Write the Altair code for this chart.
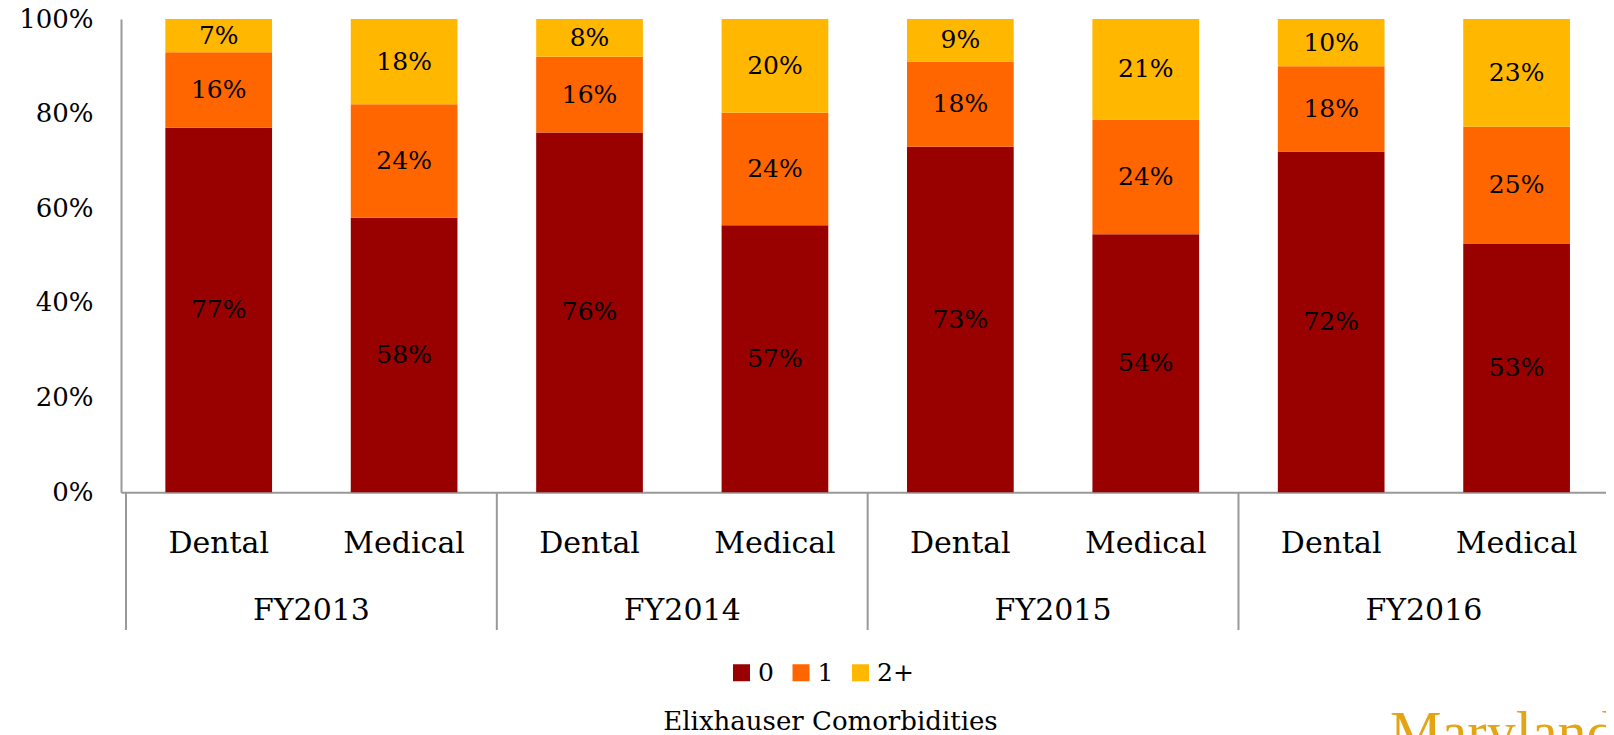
import altair as alt
import pandas as pd

years = ["FY2013", "FY2014", "FY2015", "FY2016"]
types = ["Dental", "Medical"]
levels = ["0", "1", "2+"]
# values per bar (year x type), order: FY2013 Dental, FY2013 Medical, ...
v0 = [77, 58, 76, 57, 73, 54, 72, 53]
v1 = [16, 24, 16, 24, 18, 24, 18, 25]
v2 = [7, 18, 8, 20, 9, 21, 10, 23]
colors = ["#990000", "#FF6600", "#FFB700"]

FONT = "DejaVu Serif"

rows = []
bars_meta = []
for yi, yr in enumerate(years):
    for ti, tp in enumerate(types):
        b = yi * 2 + ti
        bars_meta.append({"year": yr, "type": tp, "xc": b + 0.5})
        for li, (lv, arr) in enumerate(zip(levels, [v0, v1, v2])):
            rows.append({"year": yr, "type": tp, "slot": b, "xc": b + 0.5,
                         "level": lv, "order": li, "value": arr[b],
                         "label": f"{arr[b]}%"})
df = pd.DataFrame(rows)
bars_df = pd.DataFrame(bars_meta)
years_df = pd.DataFrame({"year": years, "xc": [i * 2 + 1 for i in range(len(years))]})
sep_df = pd.DataFrame({"xs": [i * 2 for i in range(len(years) + 1)]})

SLOT = 186.67
W = 1485
H = 473.3

xscale = alt.Scale(domain=[0, W / SLOT], nice=False, zero=False)
yscale = alt.Scale(domain=[0, 1], nice=False)

stacked = (
    alt.Chart(df)
    .transform_joinaggregate(total="sum(value)", groupby=["slot"])
    .transform_calculate(frac="datum.value / datum.total")
    .transform_stack(stack="frac", groupby=["slot"], as_=["y0", "y1"],
                     sort=[alt.SortField("order", order="ascending")])
    .transform_calculate(mid="(datum.y0 + datum.y1) / 2")
)

bars = stacked.mark_bar(size=106.7).encode(
    x=alt.X("xc:Q", scale=xscale,
            axis=alt.Axis(labels=False, ticks=False, grid=False, title=None,
                          domain=True, domainColor="#999999", domainWidth=2)),
    y=alt.Y("y0:Q", scale=yscale,
            axis=alt.Axis(format="%", values=[0, 0.2, 0.4, 0.6, 0.8, 1.0],
                          grid=False, ticks=False, title=None,
                          domain=True, domainColor="#999999", domainWidth=2,
                          labelFont=FONT, labelFontSize=26, labelColor="#000000",
                          labelPadding=28)),
    y2="y1:Q",
    color=alt.Color("level:N", scale=alt.Scale(domain=levels, range=colors),
                    legend=alt.Legend(orient="none", legendX=608, legendY=641,
                                      direction="horizontal", title=None,
                                      symbolType="square", symbolSize=289,
                                      symbolStrokeWidth=0,
                                      labelFont=FONT, labelFontSize=25,
                                      labelColor="#000000", labelOffset=4,
                                      columnPadding=14.5)),
    order=alt.Order("order:Q"),
)

labels = stacked.mark_text(font=FONT, fontSize=25, color="#000000",
                           baseline="middle").encode(
    x=alt.X("xc:Q", scale=xscale),
    y=alt.Y("mid:Q", scale=yscale),
    text="label:N",
)

type_labels = alt.Chart(bars_df).mark_text(
    font=FONT, fontSize=30, color="#000000", baseline="middle"
).encode(x=alt.X("xc:Q", scale=xscale), y=alt.value(524.5), text="type:N")

year_labels = alt.Chart(years_df).mark_text(
    font=FONT, fontSize=30, color="#000000", baseline="middle"
).encode(x=alt.X("xc:Q", scale=xscale), y=alt.value(592), text="year:N")

seps = alt.Chart(sep_df).mark_rule(color="#999999", strokeWidth=2).encode(
    x=alt.X("xs:Q", scale=xscale), y=alt.value(H), y2=alt.value(611)
)

title_txt = alt.Chart(pd.DataFrame({"t": ["Elixhauser Comorbidities"]})).mark_text(
    font=FONT, fontSize=26, color="#000000", baseline="middle", align="center"
).encode(x=alt.value(709.5), y=alt.value(703), text="t:N")

maryland = alt.Chart(pd.DataFrame({"t": ["Maryland"]})).mark_text(
    font="Liberation Serif", fontSize=58, color="#E3A514", baseline="alphabetic",
    align="left"
).encode(x=alt.value(1269), y=alt.value(732), text="t:N")

chart = (
    alt.layer(bars, labels, type_labels, year_labels, seps, title_txt, maryland)
    .properties(width=W, height=H,
                padding={"left": 113, "top": 11, "right": 0, "bottom": 242.7},
                autosize=alt.AutoSizeParams(type="none"))
    .configure_view(stroke=None)
)

chart.save("out.html", embed_options={"renderer": "svg", "actions": False})
